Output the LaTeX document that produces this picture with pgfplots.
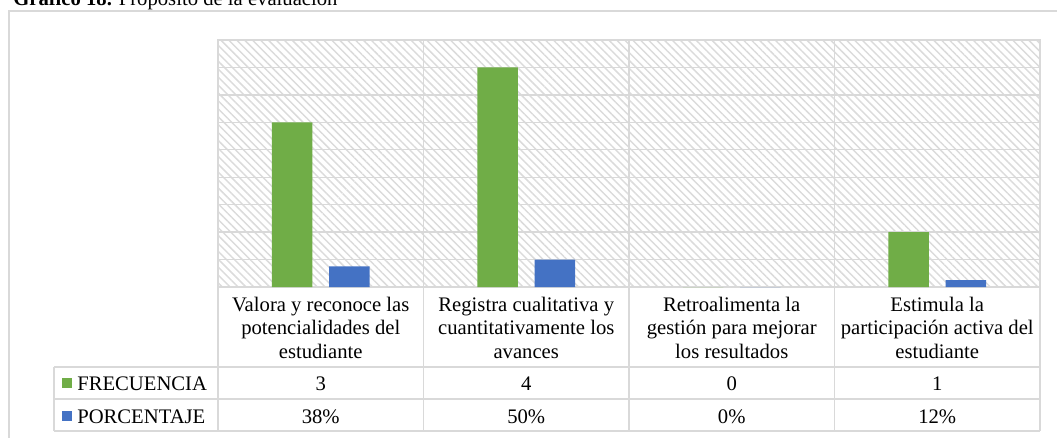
\documentclass[border=0pt]{standalone}
\usepackage{fontspec}
\setmainfont{Liberation Serif}
\usepackage{pgfplots}
\pgfplotsset{compat=1.18}
\usetikzlibrary{patterns.meta}
\definecolor{gr}{HTML}{70AD47}
\definecolor{bl}{HTML}{4472C4}
\definecolor{ln}{HTML}{D9D9D9}
\begin{document}
\begin{tikzpicture}
\path[use as bounding box] (0,0) rectangle (792.75pt,327.75pt);
\clip (0,0) rectangle (792.75pt,327.75pt);
\begin{axis}[
  at={(163.5pt,112.5pt)}, anchor=south west,
  scale only axis, width=616.5pt, height=185.25pt,
  xmin=0, xmax=4, ymin=0, ymax=4.5,
  axis background/.style={pattern={Lines[angle=-45,distance=4.2pt,line width=1.1pt]}, pattern color=black!14},
  axis line style={draw=ln, line width=1pt},
  xtick={1,2,3}, xticklabels={},
  ytick={0.5,1,...,4.5}, yticklabels={},
  major tick length=0pt,
  xmajorgrids, ymajorgrids,
  grid style={ln, line width=1pt},
  clip=false,
]
\addplot[ybar, bar width=30.4pt, bar shift=-21.5pt, fill=gr, draw=none]
  coordinates {(0.5,3) (1.5,4) (2.5,0) (3.5,1)};
\addplot[ybar, bar width=30.4pt, bar shift=21.5pt, fill=bl, draw=none]
  coordinates {(0.5,0.375) (1.5,0.5) (2.5,0) (3.5,0.125)};
\end{axis}
\begin{scope}[x=0.75pt,y=-0.75pt,yshift=327.75pt]
  % chart frame
  \draw[ln, line width=1pt] (9,460) -- (9,11) -- (1080,11);
  % title
  \node[anchor=base west, inner sep=0pt, font=\fontsize{15.5pt}{18.4pt}\selectfont] at (13,5)
    {\textbf{Gráfico 18.} Propósito de la evaluación};
  % data table lines
  \draw[ln, line width=1pt] (218,287) -- (218,431);
  \foreach \xx in {423.5,629,834.5,1040} \draw[ln, line width=1pt] (\xx,287) -- (\xx,431);
  \draw[ln, line width=1pt] (54,367) -- (54,431);
  \foreach \yy in {367,399,431} \draw[ln, line width=1pt] (54,\yy) -- (1040,\yy);
  % legend keys
  \fill[gr] (62,378) rectangle (72,388);
  \fill[bl] (62,411) rectangle (72,421);
  \begin{scope}[every node/.style={inner sep=0pt, font=\fontsize{15.5pt}{18.4pt}\selectfont}]
  \node[anchor=base west] at (77,390) {FRECUENCIA};
  \node[anchor=base west] at (77,423) {PORCENTAJE};
  % category labels
  \node[anchor=base] at (320.75,311) {Valora y reconoce las};
  \node[anchor=base] at (320.75,334.5) {potencialidades del};
  \node[anchor=base] at (320.75,358) {estudiante};
  \node[anchor=base] at (526.25,311) {Registra cualitativa y};
  \node[anchor=base] at (526.25,334.5) {cuantitativamente los};
  \node[anchor=base] at (526.25,358) {avances};
  \node[anchor=base] at (731.75,311) {Retroalimenta la};
  \node[anchor=base] at (731.75,334.5) {gestión para mejorar};
  \node[anchor=base] at (731.75,358) {los resultados};
  \node[anchor=base] at (937.25,311) {Estimula la};
  \node[anchor=base] at (937.25,334.5) {participación activa del};
  \node[anchor=base] at (937.25,358) {estudiante};
  % values
  \node[anchor=base] at (320.75,390) {3};
  \node[anchor=base] at (526.25,390) {4};
  \node[anchor=base] at (731.75,390) {0};
  \node[anchor=base] at (937.25,390) {1};
  \node[anchor=base] at (320.75,423) {38\%};
  \node[anchor=base] at (526.25,423) {50\%};
  \node[anchor=base] at (731.75,423) {0\%};
  \node[anchor=base] at (937.25,423) {12\%};
  \end{scope}
\end{scope}
\end{tikzpicture}
\end{document}
